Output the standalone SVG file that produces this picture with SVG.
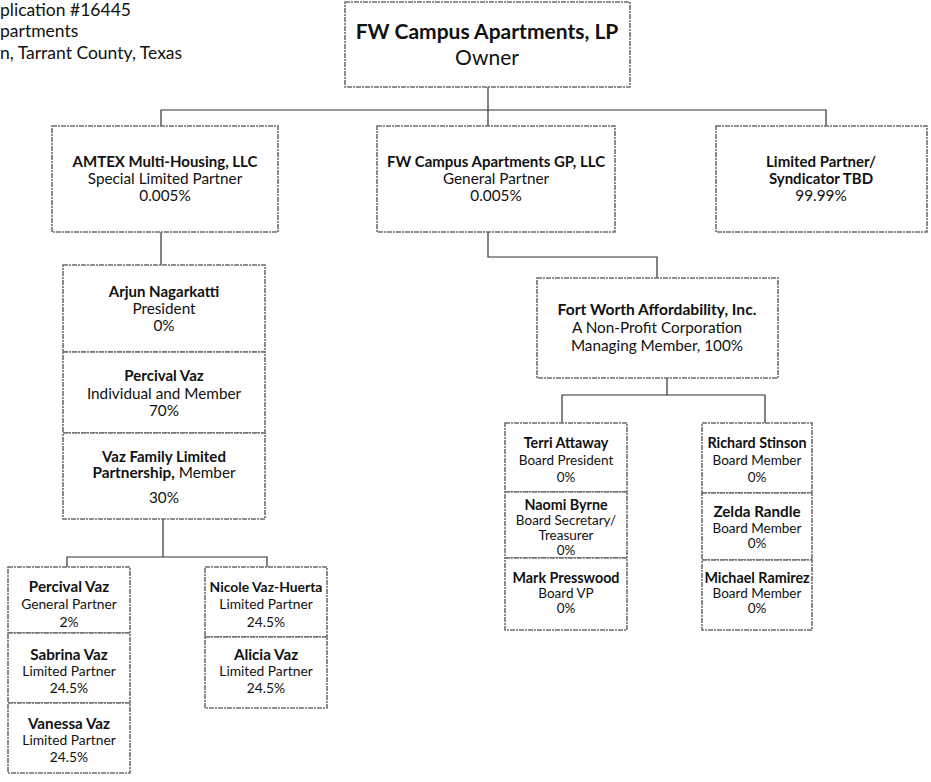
<svg xmlns="http://www.w3.org/2000/svg" width="931" height="782" viewBox="0 0 931 782">
<style>
  .box { fill: #ffffff; stroke: #6e6e6e; stroke-width: 1.6; stroke-dasharray: 5 1 2 1; }
  .conn { fill: none; stroke: #333333; stroke-width: 1.2; }
  text { font-family: Lato, "Liberation Sans", sans-serif; fill: #111111; text-anchor: middle; }
  .hdr { font-size: 17.5px; text-anchor: start; }
  .t1 { font-size: 21px; font-weight: bold; }
  .t1r { font-size: 21px; }
  .b14 { font-size: 15px; font-weight: bold; }
  .r14 { font-size: 15.3px; }
  .b13 { font-size: 15.2px; font-weight: bold; }
  .r12 { font-size: 13.8px; }
  .b12 { font-size: 14.3px; font-weight: bold; }
  .bn { font-size: 13.9px; font-weight: bold; }
  .r11 { font-size: 13.5px; }
  .bold { font-weight: bold; }
</style>
<rect width="931" height="782" fill="#ffffff"/>

<g id="header">
  <text class="hdr" x="0" y="16">plication #16445</text>
  <text class="hdr" x="0" y="37">partments</text>
  <text class="hdr" x="0" y="59">n, Tarrant County, Texas</text>
</g>

<g id="connectors">
  <path class="conn" d="M488,87 V126 M161,126 V110 H826 V126"/>
  <path class="conn" d="M161,232 V265"/>
  <path class="conn" d="M488,232 V257 H657 V278"/>
  <path class="conn" d="M667,378 V395 M562,423 V395 H765 V423"/>
  <path class="conn" d="M163,519 V557 M67,567 V557 H267 V567"/>
</g>

<g id="owner">
  <rect class="box" x="345" y="2" width="285" height="85"/>
  <text class="t1" x="487" y="39">FW Campus Apartments, LP</text>
  <text class="t1r" x="487" y="65">Owner</text>
</g>

<g id="amtex">
  <rect class="box" x="52" y="126" width="226" height="106"/>
  <text class="b14" x="165" y="167">AMTEX Multi-Housing, LLC</text>
  <text class="r14" x="165" y="184">Special Limited Partner</text>
  <text class="r14" x="165" y="201">0.005%</text>
</g>

<g id="gp">
  <rect class="box" x="377" y="126" width="238" height="106"/>
  <text class="b14" x="496" y="167">FW Campus Apartments GP, LLC</text>
  <text class="r14" x="496" y="184">General Partner</text>
  <text class="r14" x="496" y="201">0.005%</text>
</g>

<g id="lp">
  <rect class="box" x="716" y="126" width="211" height="106"/>
  <text class="b14" x="821" y="167">Limited Partner/</text>
  <text class="b14" x="821" y="184">Syndicator TBD</text>
  <text class="r14" x="821" y="201">99.99%</text>
</g>

<g id="arjun">
  <rect class="box" x="63" y="265" width="202" height="87"/>
  <text class="b14" x="164" y="297">Arjun Nagarkatti</text>
  <text class="r14" x="164" y="314">President</text>
  <text class="r14" x="164" y="331">0%</text>
</g>

<g id="percival">
  <rect class="box" x="63" y="352" width="202" height="81"/>
  <text class="b14" x="164" y="381">Percival Vaz</text>
  <text class="r14" x="164" y="399">Individual and Member</text>
  <text class="r14" x="164" y="416">70%</text>
</g>

<g id="vazfamily">
  <rect class="box" x="63" y="433" width="202" height="86"/>
  <text class="b14" x="164" y="462">Vaz Family Limited</text>
  <text class="r14" x="164" y="478"><tspan class="bold">Partnership,</tspan> Member</text>
  <text class="r14" x="164" y="503">30%</text>
</g>

<g id="fwa">
  <rect class="box" x="537" y="278" width="241" height="100"/>
  <text class="b14" x="657" y="315" style="font-size:15.6px">Fort Worth Affordability, Inc.</text>
  <text class="r14" x="657" y="333">A Non-Profit Corporation</text>
  <text class="r14" x="657" y="351">Managing Member, 100%</text>
</g>

<g id="terri">
  <rect class="box" x="505" y="423" width="122" height="69"/>
  <text class="b12" x="566" y="448">Terri Attaway</text>
  <text class="r11" x="566" y="465">Board President</text>
  <text class="r11" x="566" y="482">0%</text>
</g>

<g id="naomi">
  <rect class="box" x="505" y="492" width="122" height="66"/>
  <text class="b12" x="566" y="510">Naomi Byrne</text>
  <text class="r11" x="566" y="525">Board Secretary/</text>
  <text class="r11" x="566" y="540">Treasurer</text>
  <text class="r11" x="566" y="555">0%</text>
</g>

<g id="mark">
  <rect class="box" x="505" y="558" width="122" height="72"/>
  <text class="b12" x="566" y="583">Mark Presswood</text>
  <text class="r11" x="566" y="598">Board VP</text>
  <text class="r11" x="566" y="613">0%</text>
</g>

<g id="richard">
  <rect class="box" x="702" y="423" width="110" height="70"/>
  <text class="b12" x="757" y="448">Richard Stinson</text>
  <text class="r11" x="757" y="465">Board Member</text>
  <text class="r11" x="757" y="482">0%</text>
</g>

<g id="zelda">
  <rect class="box" x="702" y="493" width="110" height="67"/>
  <text class="b13" x="757" y="517">Zelda Randle</text>
  <text class="r11" x="757" y="533">Board Member</text>
  <text class="r11" x="757" y="548">0%</text>
</g>

<g id="michael">
  <rect class="box" x="702" y="560" width="110" height="70"/>
  <text class="b12" x="757" y="583">Michael Ramirez</text>
  <text class="r11" x="757" y="598">Board Member</text>
  <text class="r11" x="757" y="613">0%</text>
</g>

<g id="percival-gp">
  <rect class="box" x="8" y="567" width="122" height="66"/>
  <text class="b13" x="69" y="592">Percival Vaz</text>
  <text class="r12" x="69" y="609">General Partner</text>
  <text class="r12" x="69" y="627">2%</text>
</g>

<g id="sabrina">
  <rect class="box" x="8" y="633" width="122" height="70"/>
  <text class="b13" x="69" y="660">Sabrina Vaz</text>
  <text class="r12" x="69" y="676">Limited Partner</text>
  <text class="r12" x="69" y="693">24.5%</text>
</g>

<g id="vanessa">
  <rect class="box" x="8" y="703" width="122" height="70"/>
  <text class="b13" x="69" y="729">Vanessa Vaz</text>
  <text class="r12" x="69" y="745">Limited Partner</text>
  <text class="r12" x="69" y="762">24.5%</text>
</g>

<g id="nicole">
  <rect class="box" x="205" y="567" width="122" height="70"/>
  <text class="bn" x="266" y="592">Nicole Vaz-Huerta</text>
  <text class="r12" x="266" y="609">Limited Partner</text>
  <text class="r12" x="266" y="627">24.5%</text>
</g>

<g id="alicia">
  <rect class="box" x="205" y="637" width="122" height="71"/>
  <text class="b13" x="266" y="660">Alicia Vaz</text>
  <text class="r12" x="266" y="676">Limited Partner</text>
  <text class="r12" x="266" y="693">24.5%</text>
</g>
</svg>
